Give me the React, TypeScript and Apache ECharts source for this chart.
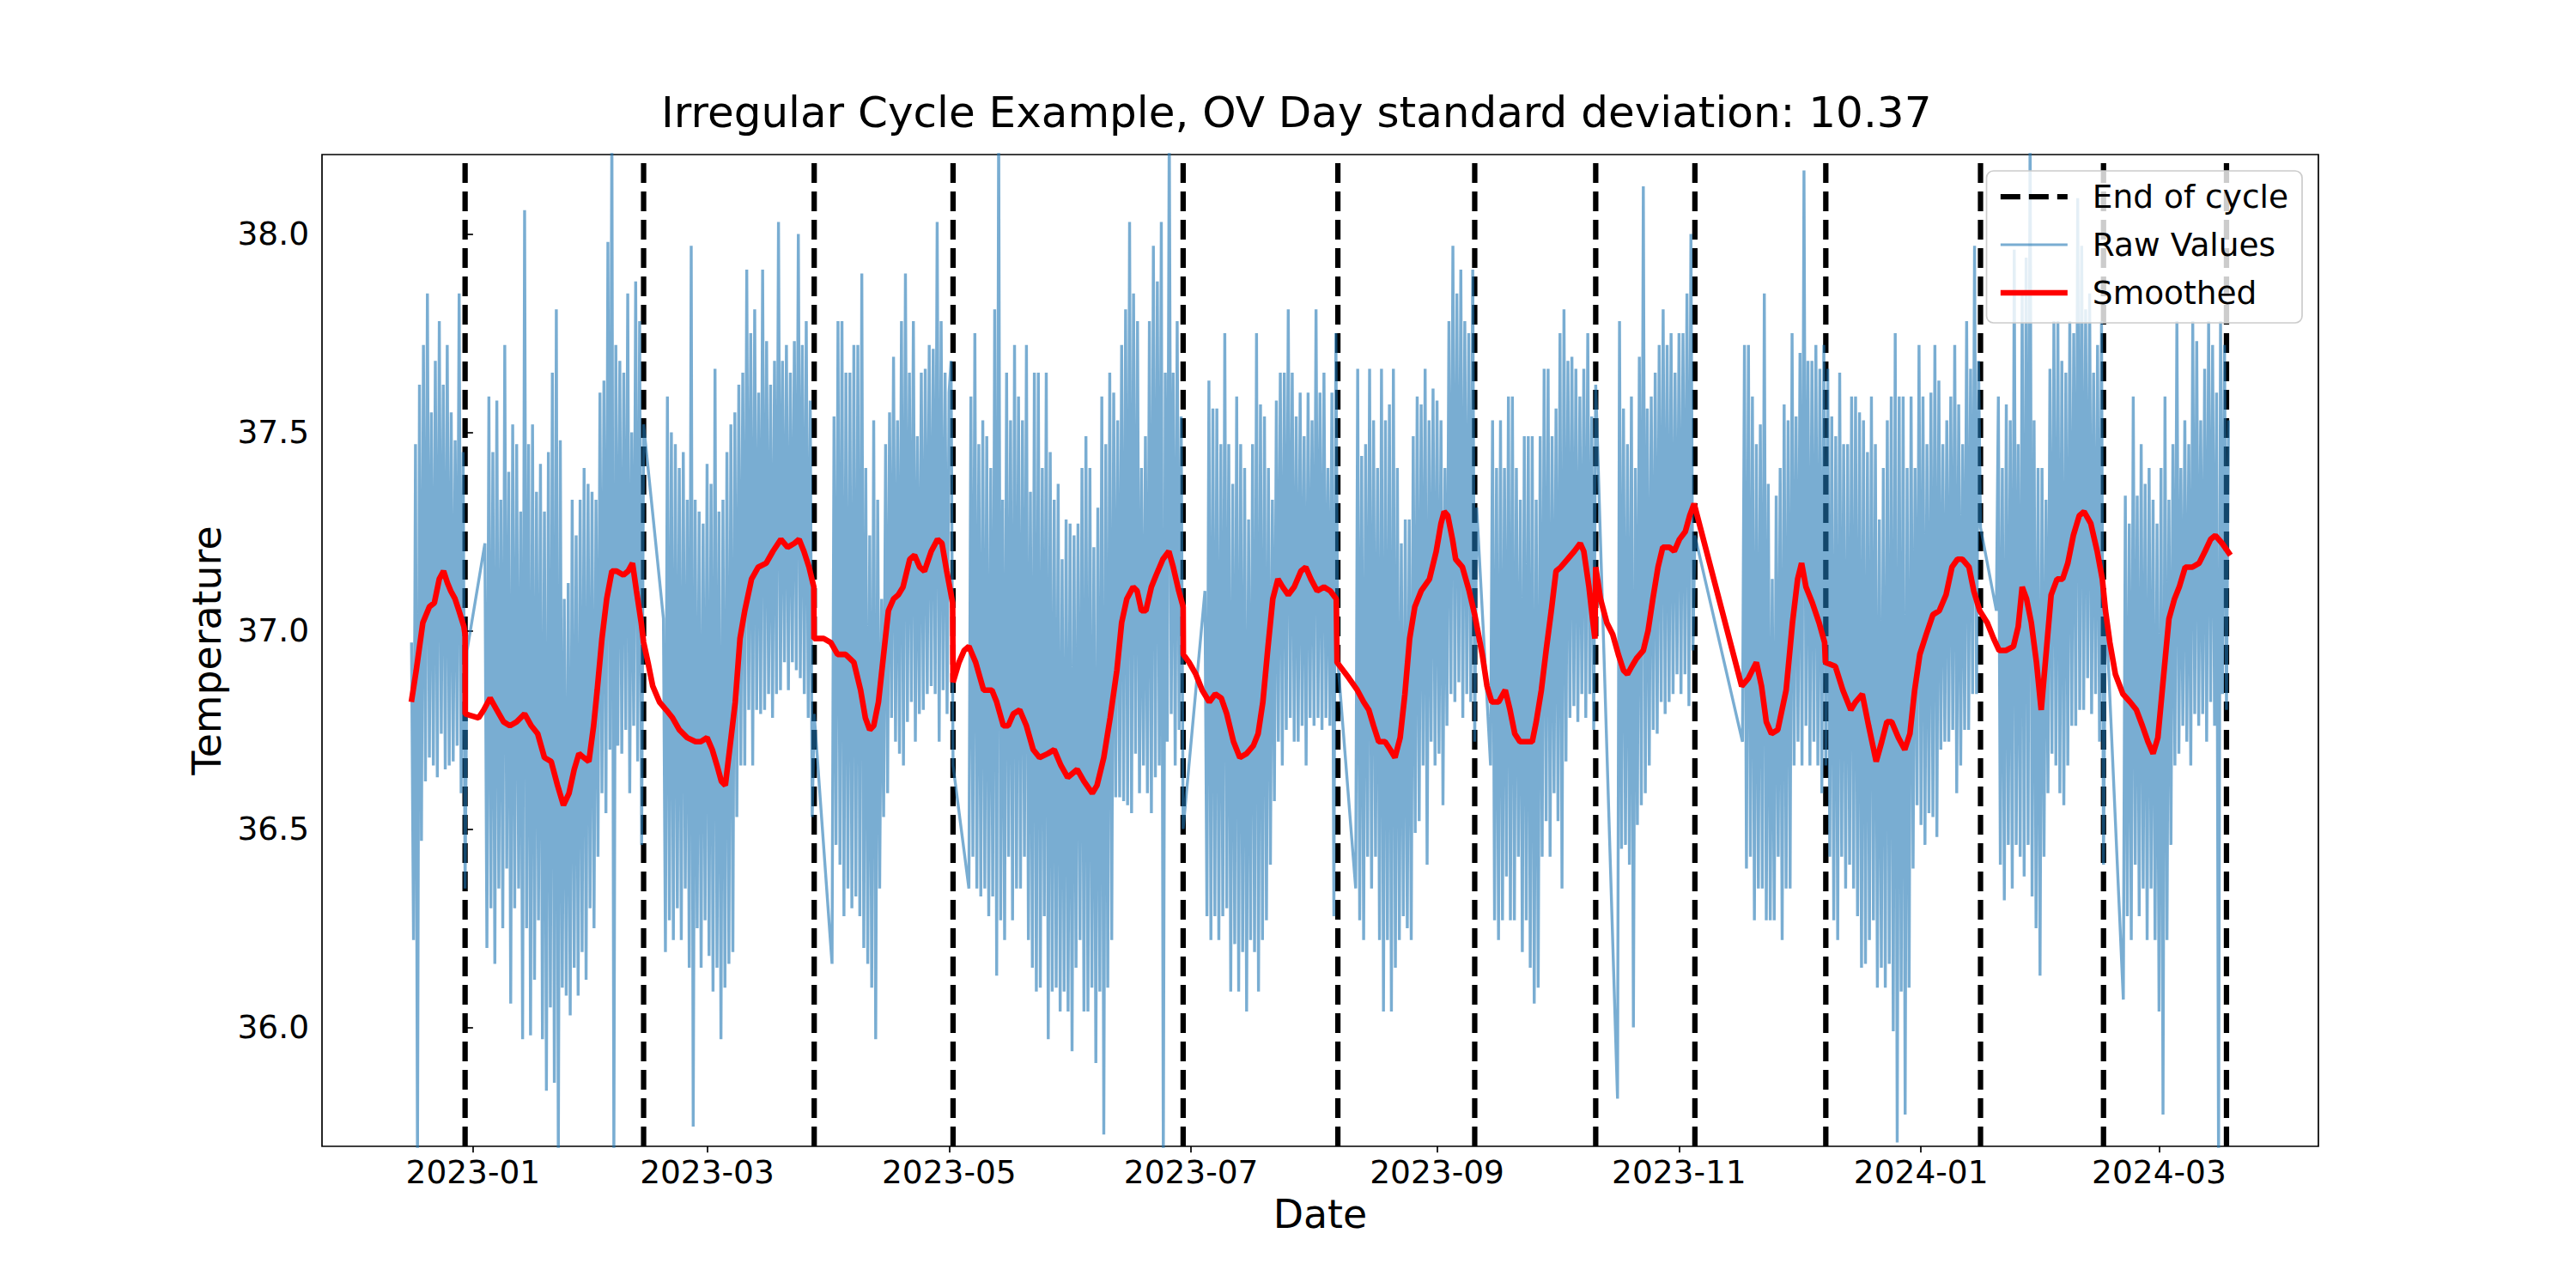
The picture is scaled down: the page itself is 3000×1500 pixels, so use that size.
import React, { useEffect, useRef } from "react";
import * as echarts from "echarts";

// ---------------------------------------------------------------------------
// Data (x values are days since EPOCH; raw readings every STEP_DAYS)
// ---------------------------------------------------------------------------
const EPOCH = "2023-01-01";
const STEP_DAYS = 0.5;

const titleText = "Irregular Cycle Example, OV Day standard deviation: 10.37";

const xTickDates = [
  "2023-01-01", "2023-03-01", "2023-05-01", "2023-07-01",
  "2023-09-01", "2023-11-01", "2024-01-01", "2024-03-01",
];
const yTicks = [36.0, 36.5, 37.0, 37.5, 38.0];

const cycleEnds = [
  "2022-12-30", "2023-02-13", "2023-03-28", "2023-05-02", "2023-06-29",
  "2023-08-07", "2023-09-10T12:00:00Z", "2023-10-11", "2023-11-05",
  "2023-12-08", "2024-01-16", "2024-02-16", "2024-03-18",
];

// raw temperature readings per recording block
const rawA = [36.97, 36.22, 37.47, 35.65, 37.62, 36.47, 37.72, 36.62, 37.85, 36.68, 37.55, 36.66, 37.68, 36.63, 37.78, 36.74, 37.62, 36.65, 37.72, 36.66, 37.55, 36.67, 37.48, 36.71, 37.85, 36.59, 37.45, 36.35, 36.95];
const rawB = [
  37.22, 36.20, 37.59, 36.30, 37.45, 36.16, 37.58, 36.35, 37.33, 36.25,
  37.72, 36.40, 37.40, 36.06, 37.52, 36.30, 37.47, 36.35, 37.30, 35.97,
  38.06, 36.25, 37.47, 35.98, 37.52, 36.12, 37.35, 36.27, 37.42, 35.97,
  37.30, 35.84, 37.45, 36.05, 37.65, 35.86, 37.81, 35.65, 37.48, 36.10,
  37.08, 36.08, 37.12, 36.03, 37.33, 36.15, 37.24, 36.08, 37.33, 36.19,
  37.41, 36.12, 37.37, 36.30, 37.35, 36.25, 37.33, 36.43, 37.60, 36.59,
  37.63, 36.54, 37.98, 36.70, 38.30, 35.65, 37.72, 36.71, 37.68, 36.69,
  37.65, 36.75, 37.85, 36.59, 37.50, 36.76, 37.88, 36.67, 37.78, 36.46,
  37.52,
];
const rawC = [
  37.03, 36.19, 37.59, 36.27, 37.50, 36.22, 37.47, 36.30, 37.41, 36.22,
  37.45, 36.35, 37.33, 36.15, 37.97, 35.75, 37.33, 36.25, 37.30, 36.15,
  37.27, 36.27, 37.42, 36.18, 37.37, 36.09, 37.66, 36.15, 37.30, 35.97,
  37.33, 36.10, 37.45, 36.16, 37.52, 36.19, 37.55, 36.53, 37.62, 36.66,
  37.65, 36.66, 37.91, 36.80, 37.75, 36.66, 37.81, 36.80, 37.60, 36.79,
  37.91, 36.80, 37.73, 36.84, 37.62, 36.78, 37.68, 36.84, 38.03, 36.85,
  37.68, 36.92, 37.72, 36.85, 37.65, 36.92, 37.73, 36.90, 38.00, 36.88,
  37.72, 36.84, 37.78, 36.78, 37.58, 36.53, 36.79,
];
const rawD = [
  36.16, 37.54, 36.46, 37.78, 36.41, 37.78, 36.28, 37.65, 36.35, 37.65,
  36.30, 37.72, 36.33, 37.72, 36.28, 37.90, 36.20, 37.41, 36.16, 37.24,
  36.10, 37.53, 35.97, 37.33, 36.35, 37.08, 36.53, 37.47, 36.59, 37.55,
  36.78, 37.69, 36.72, 37.53, 36.69, 37.78, 36.66, 37.90, 36.77, 37.65,
  36.82, 37.78, 36.72, 37.49, 36.79, 37.65, 36.80, 37.66, 36.84, 37.72,
  36.86, 37.71, 36.84, 38.03, 36.72, 37.78, 36.85, 37.65, 36.79, 37.60,
  37.68, 36.66,
];
const rawE = [
  36.35, 37.59, 36.43, 37.75, 36.35, 37.47, 36.33, 37.53, 36.35, 37.49,
  36.28, 37.41, 36.33, 37.81, 36.13, 38.30, 36.27, 37.33, 36.22, 37.65,
  36.43, 37.53, 36.27, 37.72, 36.35, 37.59, 36.35, 37.53, 36.43, 37.72,
  36.22, 37.35, 36.15, 37.65, 36.09, 37.65, 36.10, 37.41, 36.28, 37.65,
  35.97, 37.45, 36.09, 37.33, 36.10, 37.37, 36.04, 37.18, 36.09, 37.28,
  36.04, 37.27, 35.94, 37.24, 36.15, 37.27, 36.22, 37.41, 36.04, 37.49,
  36.04, 37.41, 36.10, 37.21, 35.91, 37.31, 36.09, 37.59, 35.73, 37.47,
  36.10, 37.65, 36.22, 37.60, 36.58, 37.53, 36.58, 37.72, 36.57, 37.81,
  36.56, 38.03, 36.54, 37.85, 36.69, 37.78, 36.59, 37.41, 36.66, 37.49,
  36.59, 37.78, 36.54, 37.97, 36.63, 37.88, 36.66, 38.03, 35.65, 37.65,
  36.72, 38.30, 36.79, 37.65, 36.66, 37.78, 36.75, 37.54, 36.50,
];
const rawF = [
  37.10, 36.28, 37.63, 36.22, 37.56, 36.28, 37.56, 36.22, 37.47, 36.28,
  37.75, 36.30, 37.47, 36.09, 37.37, 36.21, 37.59, 36.09, 37.47, 36.19,
  37.41, 36.04, 37.28, 36.22, 37.47, 36.19, 37.75, 36.09, 37.57, 36.22,
  37.54, 36.27, 37.41, 36.41, 37.33, 36.57, 37.58, 36.72, 37.65, 36.66,
  37.65, 36.75, 37.81, 36.78, 37.65, 36.72, 37.54, 36.72, 37.60, 36.76,
  37.49, 36.66, 37.60, 36.78, 37.53, 36.76, 37.81, 36.78, 37.60, 36.75,
  37.65, 36.78, 37.41, 36.76, 37.60, 36.28, 37.75, 36.92,
];
const rawG = [
  36.35, 37.66, 36.27, 37.44, 36.22, 37.47, 36.43, 37.66, 36.35, 37.53,
  36.43, 37.41, 36.22, 37.66, 36.04, 37.53, 36.22, 37.57, 36.04, 37.66,
  36.15, 37.41, 36.22, 37.22, 36.28, 37.28, 36.25, 37.28, 36.22, 37.49,
  36.49, 37.59, 36.52, 37.57, 36.66, 37.66, 36.41, 37.53, 36.72, 37.61,
  36.66, 37.58, 36.69, 37.53, 36.56, 37.41, 36.76, 37.78, 36.84, 37.97,
  36.82, 37.85, 36.87, 37.91, 36.78, 37.78, 36.84, 37.75, 36.82, 37.91,
  36.72, 37.31,
];
const rawH = [
  36.66, 37.53, 36.27, 37.41, 36.22, 37.53, 36.27, 37.41, 36.38, 37.59,
  36.27, 37.59, 36.27, 37.41, 36.43, 37.33, 36.19, 37.49, 36.27, 37.49,
  36.15, 37.49, 36.06, 37.33, 36.10, 37.49, 36.43, 37.66, 36.52, 37.66,
  36.43, 37.49, 36.59, 37.56, 36.52, 37.75, 36.35, 37.81, 36.67, 37.68,
  36.78, 37.69, 36.81, 37.66, 36.77, 37.59, 36.84, 37.66, 36.78, 37.75,
  36.84, 37.54, 36.75, 37.62,
];
const rawI = [
  35.82, 37.78, 36.45, 37.56, 36.46, 37.47, 36.41, 37.59, 36.00, 37.41,
  36.51, 37.69, 36.56, 38.12, 36.59, 37.56, 36.66, 37.59, 36.75, 37.65,
  36.74, 37.72, 36.82, 37.81, 36.79, 37.72, 36.82, 37.75, 36.84, 37.65,
  36.89, 37.75, 36.84, 37.75, 36.89, 37.85, 36.81, 38.00, 36.95, 37.24,
];
const rawJK = [
  36.72, 37.72, 36.40, 37.72, 36.43, 37.59, 36.27, 37.47, 36.35, 37.52,
  36.35, 37.85, 36.27, 37.37, 36.27, 37.13, 36.27, 37.34, 36.43, 37.41,
  36.22, 37.57, 36.35, 37.53, 36.35, 37.75, 36.66, 37.54, 36.72, 37.70,
  36.66, 38.16, 36.76, 37.68, 36.66, 37.68, 36.72, 37.72, 36.66, 37.66,
  36.59, 37.72, 36.66, 37.66, 36.43, 37.54, 36.27, 37.49, 36.22, 37.65,
  36.43, 37.47, 36.35, 37.47, 36.41, 37.59, 36.35, 37.59, 36.28, 37.55,
  36.15, 37.53, 36.16, 37.45, 36.22, 37.59, 36.27, 37.47, 36.10, 37.28,
  36.15, 37.41, 36.10, 37.53, 36.16, 37.59, 35.99, 37.75, 35.71, 37.59,
  36.09, 37.59, 35.78, 37.41, 36.10, 37.59, 36.40, 37.41, 36.56, 37.72,
  36.51, 37.59, 36.46, 37.47, 36.54, 37.60, 36.53, 37.72, 36.48, 37.63,
  36.70, 37.47, 36.72, 37.53, 36.72, 37.59, 36.75, 37.72, 36.59, 37.57,
  36.66, 37.47, 36.75, 37.78, 36.75, 37.66, 36.84, 37.97, 36.84, 37.68,
  37.26,
];
const rawL = [
  37.05, 37.59, 36.41, 37.41, 36.32, 37.57, 36.46, 37.53, 36.35, 37.96,
  36.46, 37.47, 36.43, 37.85, 36.38, 37.94, 36.46, 38.30, 36.33, 37.53,
  36.25, 37.41, 36.13, 37.41, 36.43, 37.33, 36.59, 37.66, 36.69, 37.78,
  36.66, 37.78, 36.59, 37.68, 36.56, 37.65, 36.66, 37.78, 36.76, 37.75,
  36.76, 38.09, 36.80, 37.97, 36.80, 37.81, 36.88, 37.85, 36.79, 37.65,
  36.84, 37.72, 36.72, 37.78, 36.41, 37.08,
];
const rawM = [
  36.07, 37.34, 36.28, 37.27, 36.22, 37.59, 36.41, 37.34, 36.28, 37.47,
  36.35, 37.37, 36.22, 37.41, 36.35, 37.33, 36.22, 37.27, 36.04, 37.41,
  35.78, 37.59, 36.22, 37.33, 36.46, 37.47, 36.66, 37.78, 36.69, 37.41,
  36.76, 37.53, 36.72, 37.47, 36.66, 37.78, 36.79, 37.73, 36.76, 37.53,
  36.79, 37.66, 36.72, 37.78, 36.82, 37.72, 36.76, 37.60, 35.65, 37.78,
  36.84, 37.72, 36.80, 37.53,
];

// first reading of each block, in days since EPOCH
const rawBlockStarts = [-15.5, 3.0, 48.0, 90.5, 125.0, 184.5, 222.5, 256.5, 288.5, 320.0, 384.0, 416.0];
const rawBlocks = [rawA, rawB, rawC, rawD, rawE, rawF, rawG, rawH, rawI, rawJK, rawL, rawM];

// smoothed curve: [days since EPOCH, temperature]
const smoothed = [
  [-15.55, 36.82], [-14.31, 36.9], [-12.65, 37.02], [-11.0, 37.06], [-9.75, 37.07], [-8.51, 37.13],
  [-7.43, 37.15], [-6.44, 37.12], [-5.61, 37.1], [-4.53, 37.08], [-3.54, 37.05], [-2.29, 37.01],
  [-2.0, 36.99], [-1.96, 36.79],
  [1.4, 36.78], [2.7, 36.8], [4.3, 36.83], [6.0, 36.8], [7.7, 36.77], [9.3, 36.76], [11.0, 36.77],
  [13.0, 36.79], [14.7, 36.76], [16.3, 36.74], [18.0, 36.68], [19.7, 36.67], [21.3, 36.61],
  [22.8, 36.56], [24.2, 36.59], [25.5, 36.65], [26.7, 36.69], [27.9, 36.68], [29.2, 36.67],
  [30.4, 36.76], [31.3, 36.85], [32.5, 36.98], [33.7, 37.08], [35.0, 37.15], [36.2, 37.15],
  [37.9, 37.14], [39.1, 37.15], [40.2, 37.17], [41.2, 37.1], [42.4, 37.02], [43.0, 36.97],
  [44.1, 36.92], [45.3, 36.86], [47.0, 36.82], [48.7, 36.8], [50.3, 36.78], [52.0, 36.75],
  [54.0, 36.73], [56.1, 36.72], [57.4, 36.72], [59.0, 36.73], [60.3, 36.7], [61.5, 36.66],
  [62.6, 36.62], [63.6, 36.61], [64.8, 36.71], [66.1, 36.82], [67.3, 36.98], [68.5, 37.05],
  [70.2, 37.13], [71.9, 37.16], [73.9, 37.17], [75.6, 37.2], [77.6, 37.23], [79.3, 37.21],
  [81.0, 37.22], [82.2, 37.23], [83.4, 37.2], [84.7, 37.16], [85.9, 37.11], [85.95, 36.98],
  [88.4, 36.98], [90.2, 36.97], [91.9, 36.94], [93.9, 36.94], [96.0, 36.92], [97.7, 36.85],
  [98.9, 36.78], [100.0, 36.75], [101.0, 36.76], [102.2, 36.82], [103.5, 36.94], [104.7, 37.05],
  [106.0, 37.08], [107.2, 37.09], [108.4, 37.11], [110.1, 37.18], [111.3, 37.19], [112.6, 37.16],
  [113.8, 37.15], [115.5, 37.2], [117.1, 37.23], [118.2, 37.22], [119.4, 37.15], [120.9, 37.07],
  [121.0, 36.87],
  [122.5, 36.92], [123.8, 36.95], [125.0, 36.96], [126.7, 36.92], [128.7, 36.85], [130.8, 36.85],
  [132.0, 36.82], [133.7, 36.76], [134.9, 36.76], [136.2, 36.79], [137.8, 36.8], [139.5, 36.76],
  [141.2, 36.7], [142.8, 36.68], [144.9, 36.69], [146.5, 36.7], [148.2, 36.66], [149.9, 36.63],
  [152.3, 36.65], [154.0, 36.62], [156.1, 36.59], [157.3, 36.61], [159.0, 36.68], [160.6, 36.78],
  [162.3, 36.9], [163.5, 37.02], [164.8, 37.08], [166.4, 37.11], [167.4, 37.1], [168.5, 37.05],
  [169.6, 37.05], [171.0, 37.11], [172.2, 37.14], [173.9, 37.18], [175.4, 37.2], [176.5, 37.16],
  [177.9, 37.1], [179.0, 37.06], [179.05, 36.94],
  [180.5, 36.92], [182.2, 36.89], [183.8, 36.85], [185.6, 36.82], [187.1, 36.84], [188.6, 36.83],
  [190.0, 36.79], [191.7, 36.72], [193.3, 36.68], [195.0, 36.69], [196.7, 36.71], [197.9, 36.74],
  [199.1, 36.82], [200.4, 36.96], [201.6, 37.08], [202.9, 37.13], [204.1, 37.11], [205.5, 37.09],
  [207.0, 37.11], [208.7, 37.15], [209.9, 37.16], [211.2, 37.13], [212.8, 37.1], [214.5, 37.11],
  [216.1, 37.1], [217.6, 37.08], [217.8, 36.92],
  [220.8, 36.88], [222.9, 36.85], [224.5, 36.82], [225.8, 36.8], [227.0, 36.76], [228.3, 36.72],
  [229.9, 36.72], [231.2, 36.7], [232.4, 36.68], [233.7, 36.73], [234.9, 36.84], [236.1, 36.98],
  [237.4, 37.06], [239.0, 37.1], [241.1, 37.13], [242.8, 37.2], [244.0, 37.27], [244.8, 37.3],
  [245.7, 37.29], [246.9, 37.23], [247.7, 37.18], [249.4, 37.16], [251.1, 37.1], [252.5, 37.04],
  [254.4, 36.94], [255.6, 36.86], [256.8, 36.82], [258.5, 36.82], [260.2, 36.85], [261.4, 36.8],
  [262.6, 36.74], [263.9, 36.72], [265.5, 36.72], [267.0, 36.72], [268.0, 36.77], [269.3, 36.85],
  [270.5, 36.95], [271.8, 37.05], [273.0, 37.15], [274.2, 37.16], [275.9, 37.18], [277.6, 37.2],
  [279.1, 37.22], [280.0, 37.2], [281.3, 37.11], [282.2, 37.03], [282.8, 36.98], [283.0, 37.16],
  [284.2, 37.08], [285.8, 37.02], [287.3, 36.99], [288.7, 36.94], [290.0, 36.9], [291.0, 36.89],
  [292.1, 36.91], [293.3, 36.93], [295.0, 36.95], [296.2, 37.0], [297.4, 37.08], [298.7, 37.16],
  [299.9, 37.21], [301.6, 37.21], [302.8, 37.2], [304.1, 37.23], [305.6, 37.25], [306.7, 37.29],
  [307.8, 37.32],
  [319.8, 36.86], [321.5, 36.88], [323.5, 36.92], [324.8, 36.86], [326.0, 36.77], [327.3, 36.74],
  [328.9, 36.75], [331.0, 36.85], [332.6, 37.02], [333.9, 37.13], [334.9, 37.17], [336.0, 37.11],
  [337.6, 37.07], [339.3, 37.02], [340.7, 36.97], [340.9, 36.92], [343.4, 36.91], [345.3, 36.85],
  [347.3, 36.8], [348.5, 36.82], [350.2, 36.84], [351.8, 36.76], [353.7, 36.67], [355.1, 36.72],
  [356.4, 36.77], [357.6, 36.77], [359.3, 36.73], [360.9, 36.7], [362.2, 36.74], [363.4, 36.85],
  [364.7, 36.94], [366.3, 36.99], [368.0, 37.04], [369.6, 37.05], [371.3, 37.09], [372.8, 37.16],
  [374.2, 37.18], [375.4, 37.18], [377.1, 37.16], [378.3, 37.1], [379.8, 37.05],
  [381.7, 37.02], [383.3, 36.98], [384.7, 36.95], [386.4, 36.95], [388.3, 36.96], [389.5, 37.01],
  [390.5, 37.11], [391.6, 37.08], [392.8, 37.02], [394.1, 36.92], [395.3, 36.8], [396.6, 36.95],
  [397.8, 37.09], [399.3, 37.13], [400.7, 37.13], [402.0, 37.17], [403.4, 37.24], [404.9, 37.29],
  [406.1, 37.3], [407.8, 37.27], [409.4, 37.2], [410.7, 37.13],
  [411.5, 37.05], [412.6, 36.97], [414.0, 36.89], [415.9, 36.84], [417.7, 36.82], [419.3, 36.8],
  [420.8, 36.76], [422.2, 36.72], [423.5, 36.69], [424.7, 36.73], [426.0, 36.87], [427.5, 37.03],
  [428.9, 37.08], [430.1, 37.11], [431.6, 37.16], [433.4, 37.16], [435.1, 37.17], [436.6, 37.2],
  [438.0, 37.23], [439.2, 37.24], [440.9, 37.22], [443.0, 37.19],
];

// axis range (days since EPOCH / °C)
const X_MIN = -38.07;
const X_MAX = 465.17;
const Y_MIN = 35.7;
const Y_MAX = 38.2;

// ---------------------------------------------------------------------------
const DAY_MS = 86400000;
const epochMs = Date.parse(EPOCH);
const toDays = (s: string) => (Date.parse(s) - epochMs) / DAY_MS;

const rawData = rawBlocks.flatMap((vals, b) =>
  vals.map((v, i) => [rawBlockStarts[b] + i * STEP_DAYS, v])
);
const endLineData = cycleEnds.flatMap((d) => {
  const x = toDays(d);
  return [[x, Y_MIN], [x, Y_MAX], [x, null]];
});
const xTickValues = xTickDates.map(toDays);
const formatDay = (v: number) => {
  const d = new Date(epochMs + Math.round(v) * DAY_MS);
  return `${d.getUTCFullYear()}-${String(d.getUTCMonth() + 1).padStart(2, "0")}`;
};

const FONT = "DejaVu Sans";
const DASH = [23, 10];

const option: any = {
  animation: false,
  backgroundColor: "#ffffff",
  textStyle: { fontFamily: FONT },
  title: {
    text: titleText,
    left: 770,
    top: 106,
    padding: 0,
    textStyle: { fontFamily: FONT, fontSize: 50, fontWeight: "normal", color: "#000", lineHeight: 50 },
  },
  grid: {
    left: 375,
    right: 300,
    top: 180,
    bottom: 165,
    show: true,
    borderColor: "#000",
    borderWidth: 1.7,
    backgroundColor: "transparent",
  },
  legend: {
    orient: "vertical",
    right: 319,
    top: 199,
    padding: [11, 16, 16, 13],
    itemGap: 18,
    itemWidth: 78,
    itemHeight: 37,
    selectedMode: false,
    backgroundColor: "rgba(255,255,255,0.8)",
    borderColor: "#cccccc",
    borderWidth: 1.7,
    borderRadius: 8,
    itemStyle: { opacity: 0 },
    textStyle: { fontFamily: FONT, fontSize: 37.5, color: "#000", lineHeight: 37, padding: [0, 0, 0, 24] },
    data: [
      { name: "End of cycle", lineStyle: { width: 6.25, type: DASH, color: "#000", opacity: 1 } },
      { name: "Raw Values", lineStyle: { width: 3.1, type: "solid", color: "#1f77b4", opacity: 0.6 } },
      { name: "Smoothed", lineStyle: { width: 6.6, type: "solid", color: "#ff0000", opacity: 1 } },
    ],
  },
  xAxis: {
    type: "value",
    min: X_MIN,
    max: X_MAX,
    name: "Date",
    nameLocation: "middle",
    nameGap: 56,
    nameTextStyle: { fontFamily: FONT, fontSize: 45.8, color: "#000", lineHeight: 45.8 },
    axisLine: { show: false },
    splitLine: { show: false },
    axisTick: {
      show: true,
      length: 7.3,
      customValues: xTickValues,
      lineStyle: { color: "#000", width: 1.7 },
    },
    axisLabel: {
      customValues: xTickValues,
      margin: 11,
      fontFamily: FONT,
      fontSize: 37.5,
      color: "#000",
      formatter: (v: number) => formatDay(v),
    },
  },
  yAxis: {
    type: "value",
    min: Y_MIN,
    max: Y_MAX,
    name: "Temperature",
    nameLocation: "middle",
    nameGap: 111,
    nameTextStyle: { fontFamily: FONT, fontSize: 45.8, color: "#000", lineHeight: 45.8 },
    axisLine: { show: false },
    splitLine: { show: false },
    axisTick: {
      show: true,
      length: 7.3,
      customValues: yTicks,
      lineStyle: { color: "#000", width: 1.7 },
    },
    axisLabel: {
      customValues: yTicks,
      margin: 15,
      fontFamily: FONT,
      fontSize: 37.5,
      color: "#000",
      formatter: (v: number) => v.toFixed(1),
    },
  },
  series: [
    {
      name: "End of cycle",
      type: "line",
      data: endLineData,
      symbol: "none",
      connectNulls: false,
      silent: true,
      z: 1,
      itemStyle: { color: "#000" },
      lineStyle: { color: "#000", width: 6.25, type: DASH },
    },
    {
      name: "Raw Values",
      type: "line",
      data: rawData,
      symbol: "none",
      silent: true,
      z: 2,
      itemStyle: { color: "#1f77b4" },
      lineStyle: { color: "#1f77b4", width: 3.4, opacity: 0.6 },
    },
    {
      name: "Smoothed",
      type: "line",
      data: smoothed,
      symbol: "none",
      silent: true,
      z: 3,
      itemStyle: { color: "#ff0000" },
      lineStyle: { color: "#ff0000", width: 6.6 },
    },
  ],
};

export default function App() {
  const ref = useRef<HTMLDivElement>(null);
  useEffect(() => {
    if (!ref.current) return;
    const chart = echarts.init(ref.current, null, { renderer: "svg" });
    chart.setOption(option);
    return () => chart.dispose();
  }, []);
  return (
    <div
      ref={ref}
      style={{ position: "fixed", left: 0, top: 0, width: 3000, height: 1500, background: "#fff" }}
    />
  );
}
